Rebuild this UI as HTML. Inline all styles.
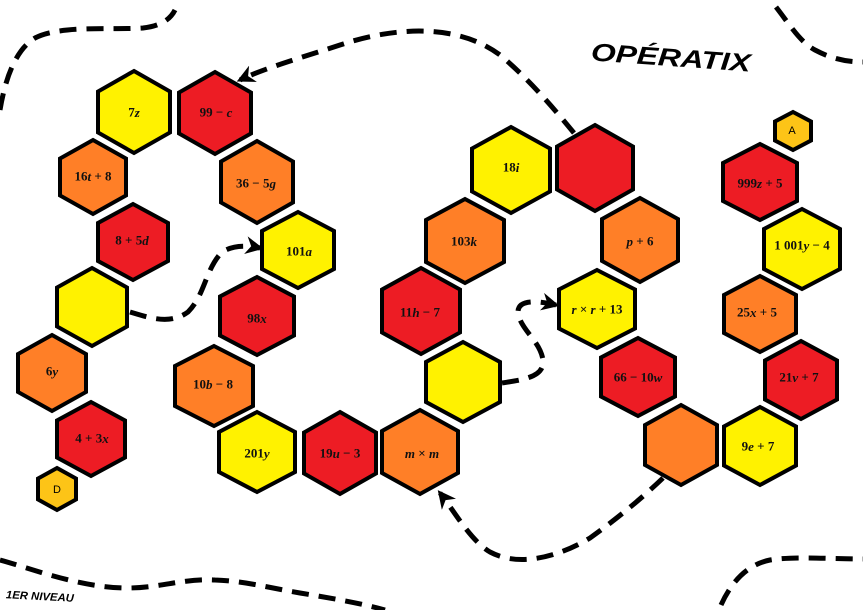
<!DOCTYPE html>
<html><head><meta charset="utf-8">
<style>
html,body{margin:0;padding:0;background:#fff;}
svg{display:block;}
.t{font-family:"Liberation Serif",serif;font-weight:bold;font-size:13px;fill:#111;text-anchor:middle;dominant-baseline:central;}
.t tspan.i{font-style:italic;}
.d{fill:none;stroke:#000;stroke-width:5;stroke-dasharray:17 10;}
</style></head>
<body>
<svg width="863" height="610" viewBox="0 0 863 610" xmlns="http://www.w3.org/2000/svg">
<defs>
<polygon id="h" points="0,-1 1,-0.5 1,0.5 0,1 -1,0.5 -1,-0.5" stroke="#000" stroke-width="4" stroke-linejoin="miter" vector-effect="non-scaling-stroke"/>
<marker id="ar" viewBox="0 0 10 10" refX="8" refY="5" markerWidth="3.6" markerHeight="3.6" orient="auto"><path d="M0,0 L10,5 L0,10 L3,5 z" fill="#000"/></marker>
</defs>

<path class="d" d="M0,110 C5,80 15,50 35,38 C60,25 110,30 143,28 C160,26 170,20 175,10"/>
<path class="d" d="M776,7 C790,25 800,42 815,50 C830,58 845,62 863,62"/>
<path class="d" d="M574,133 C555,110 530,80 500,55 C460,25 400,25 340,45 C300,58 265,68 240,80" marker-end="url(#ar)"/>
<path class="d" d="M130,312 C150,318 170,325 188,312 C205,295 205,270 222,252 C235,244 250,246 260,248" marker-end="url(#ar)"/>
<path class="d" d="M502,383 C520,380 545,378 543,360 C540,340 520,330 518,312 C518,300 535,300 556,305" marker-end="url(#ar)"/>
<path class="d" d="M663,478 C640,500 615,520 590,538 C560,556 520,568 490,552 C470,540 455,512 440,493" marker-end="url(#ar)"/>
<path class="d" d="M0,560 C30,568 80,588 127,588 C160,588 185,578 215,580 C245,581 270,588 300,593 C330,598 360,603 385,610"/>
<path class="d" d="M721,605 C730,585 745,565 770,560 C795,556 830,559 863,559"/>

<g>
<use href="#h" fill="#fff200" transform="translate(134,112) scale(36,41)"/>
<use href="#h" fill="#ed1c24" transform="translate(215,113) scale(36,41)"/>
<use href="#h" fill="#ff7f27" transform="translate(93,177) scale(33,37)"/>
<use href="#h" fill="#ff7f27" transform="translate(257,182) scale(36,41)"/>
<use href="#h" fill="#ed1c24" transform="translate(133,242) scale(35,38)"/>
<use href="#h" fill="#fff200" transform="translate(298,250) scale(36,38)"/>
<use href="#h" fill="#fff200" transform="translate(92,307) scale(35,39)"/>
<use href="#h" fill="#ed1c24" transform="translate(257,316) scale(37,39)"/>
<use href="#h" fill="#ff7f27" transform="translate(52,373) scale(34,38)"/>
<use href="#h" fill="#ff7f27" transform="translate(214,386) scale(39,40)"/>
<use href="#h" fill="#ed1c24" transform="translate(91,439) scale(34,37)"/>
<use href="#h" fill="#fdc417" transform="translate(57,489) scale(19,21)"/>
<use href="#h" fill="#fff200" transform="translate(257,452) scale(38,40)"/>
<use href="#h" fill="#ed1c24" transform="translate(340,453) scale(36,41)"/>
<use href="#h" fill="#ff7f27" transform="translate(420,452) scale(38,42)"/>
<use href="#h" fill="#fff200" transform="translate(511,170) scale(39,43)"/>
<use href="#h" fill="#ed1c24" transform="translate(595,168) scale(38,43)"/>
<use href="#h" fill="#ff7f27" transform="translate(465,241) scale(39,42)"/>
<use href="#h" fill="#ff7f27" transform="translate(640,240) scale(38,42)"/>
<use href="#h" fill="#ed1c24" transform="translate(421,311) scale(39,43)"/>
<use href="#h" fill="#fff200" transform="translate(597,309) scale(38,39)"/>
<use href="#h" fill="#fff200" transform="translate(463,382) scale(37,40)"/>
<use href="#h" fill="#ed1c24" transform="translate(638,377) scale(37,39)"/>
<use href="#h" fill="#ff7f27" transform="translate(681,445) scale(36,40)"/>
<use href="#h" fill="#fff200" transform="translate(760,446) scale(36,39)"/>
<use href="#h" fill="#ed1c24" transform="translate(760,182) scale(37,38)"/>
<use href="#h" fill="#fff200" transform="translate(802,249) scale(38,40)"/>
<use href="#h" fill="#ff7f27" transform="translate(760,314) scale(36,38)"/>
<use href="#h" fill="#ed1c24" transform="translate(801,380) scale(36,39)"/>
<use href="#h" fill="#fdc417" transform="translate(793,131) scale(18,19)"/>
</g>

<text class="t" x="134" y="112">7<tspan class="i">z</tspan></text>
<text class="t" x="216" y="112">99 − <tspan class="i">c</tspan></text>
<text class="t" x="93" y="176">16<tspan class="i">t</tspan> + 8</text>
<text class="t" x="256" y="183">36 − 5<tspan class="i">g</tspan></text>
<text class="t" x="132" y="240">8 + 5<tspan class="i">d</tspan></text>
<text class="t" x="299" y="251">101<tspan class="i">a</tspan></text>
<text class="t" x="257" y="318">98<tspan class="i">x</tspan></text>
<text class="t" x="52" y="371">6<tspan class="i">y</tspan></text>
<text class="t" x="213" y="384">10<tspan class="i">b</tspan> − 8</text>
<text class="t" x="92" y="438">4 + 3<tspan class="i">x</tspan></text>
<text class="t" x="257" y="453">201<tspan class="i">y</tspan></text>
<text class="t" x="340" y="453">19<tspan class="i">u</tspan> − 3</text>
<text class="t" x="422" y="453"><tspan class="i">m</tspan> × <tspan class="i">m</tspan></text>
<text class="t" x="511" y="167">18<tspan class="i">i</tspan></text>
<text class="t" x="464" y="241">103<tspan class="i">k</tspan></text>
<text class="t" x="640" y="241"><tspan class="i">p</tspan> + 6</text>
<text class="t" x="420" y="312">11<tspan class="i">h</tspan> − 7</text>
<text class="t" x="597" y="309"><tspan class="i">r</tspan> × <tspan class="i">r</tspan> + 13</text>
<text class="t" x="638" y="377">66 − 10<tspan class="i">w</tspan></text>
<text class="t" x="758" y="446">9<tspan class="i">e</tspan> + 7</text>
<text class="t" x="760" y="183">999<tspan class="i">z</tspan> + 5</text>
<text class="t" x="802" y="245">1 001<tspan class="i">y</tspan> − 4</text>
<text class="t" x="757" y="312">25<tspan class="i">x</tspan> + 5</text>
<text class="t" x="799" y="377">21<tspan class="i">v</tspan> + 7</text>
<text x="57" y="490" font-family="Liberation Sans,sans-serif" font-size="11" text-anchor="middle" dominant-baseline="central">D</text>
<text x="792" y="131" font-family="Liberation Sans,sans-serif" font-size="11" text-anchor="middle" dominant-baseline="central">A</text>

<text x="591" y="66" font-family="Liberation Sans,sans-serif" font-weight="bold" font-style="italic" font-size="25" textLength="160" lengthAdjust="spacingAndGlyphs" transform="rotate(4 671 56)">OPÉRATIX</text>
<text x="6" y="600" font-family="Liberation Sans,sans-serif" font-weight="bold" font-style="italic" font-size="11" textLength="68" lengthAdjust="spacingAndGlyphs" transform="rotate(3 40 595)">1ER NIVEAU</text>
</svg>
</body></html>
